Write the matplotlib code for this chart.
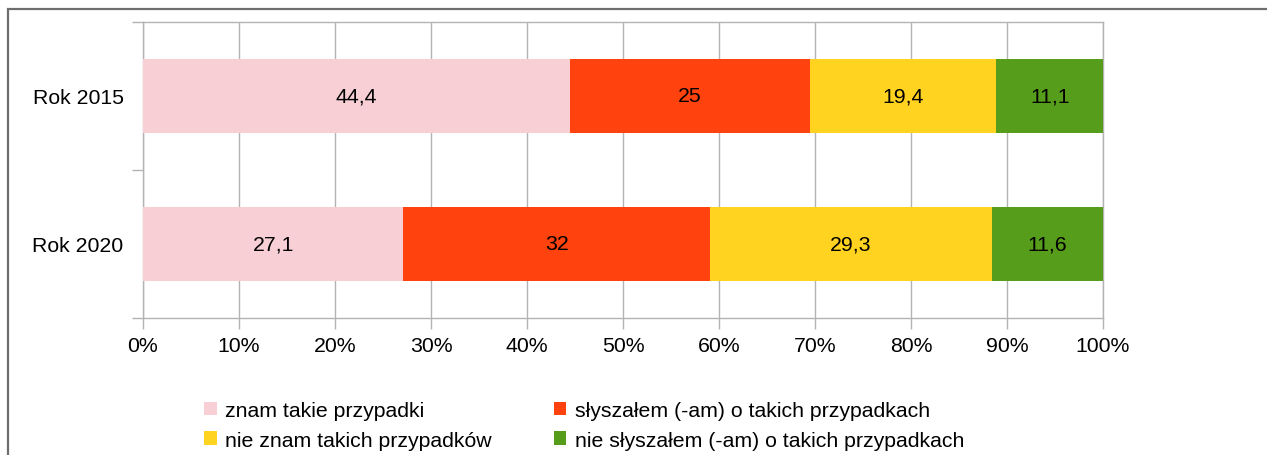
import matplotlib
matplotlib.use("Agg")
import matplotlib.pyplot as plt
from matplotlib.patches import Patch, Rectangle
import numpy as np

plt.rcParams['font.family'] = ['Liberation Sans', 'DejaVu Sans']

years = ["Rok 2015", "Rok 2020"]
series_names = [
    "znam takie przypadki",
    "słyszałem (-am) o takich przypadkach",
    "nie znam takich przypadków",
    "nie słyszałem (-am) o takich przypadkach",
]
znam = [44.4, 27.1]
slyszalem = [25, 32]
nie_znam = [19.4, 29.3]
nie_slyszalem = [11.1, 11.6]
colors = ["#F7CFD5", "#FF420E", "#FFD320", "#579D1C"]
x_ticks = [0, 10, 20, 30, 40, 50, 60, 70, 80, 90, 100]

W, H = 1267, 456
fig = plt.figure(figsize=(W / 100, H / 100), dpi=100)
fig.patch.set_facecolor("white")

# outer frame of the chart object
fig.patches.append(Rectangle((8 / W, -0.2), 1.2, (H - 10) / H + 0.2,
                             transform=fig.transFigure, fill=False,
                             edgecolor="#6e6e6e", linewidth=1.6))

ax = fig.add_axes([143 / W, (H - 319) / H, 960 / W, 296 / H])

data = np.array([znam, slyszalem, nie_znam, nie_slyszalem], dtype=float)
totals = data.sum(axis=0)
shares = data / totals * 100
y = np.arange(len(years))
left = np.zeros(len(years))
fs = 15.3
for i in range(len(series_names)):
    bars = ax.barh(y, shares[i], left=left, height=0.5, color=colors[i],
                   label=series_names[i], zorder=3)
    for j, b in enumerate(bars):
        val = data[i, j]
        txt = f"{val:g}".replace(".", ",")
        ax.text(left[j] + shares[i, j] / 2, y[j], txt, ha="center",
                va="center", fontsize=fs, color="black", zorder=4)
    left += shares[i]

ax.set_xlim(0, 100)
ax.set_ylim(1.5, -0.5)
ax.set_xticks(x_ticks)
ax.set_xticklabels([f"{t}%" for t in x_ticks], fontsize=fs)
ax.set_yticks(y)
ax.set_yticklabels(years, fontsize=fs)
ax.set_yticks([-0.5, 0.5, 1.5], minor=True)

grid_c = "#b3b3b3"
ax.grid(axis="x", color=grid_c, linewidth=1.0, zorder=0)
for s in ax.spines.values():
    s.set_color(grid_c)
    s.set_linewidth(1.0)
ax.tick_params(axis="y", which="major", length=0, pad=14)
ax.tick_params(axis="y", which="minor", length=8, color=grid_c, width=1.0)
ax.tick_params(axis="x", length=8, color=grid_c, width=1.0, pad=5)

handles = [Patch(facecolor=c, edgecolor="none") for c in colors]
order = [0, 2, 1, 3]
fig.legend([handles[k] for k in order], [series_names[k] for k in order],
           ncol=2, loc="upper left", bbox_to_anchor=(204 / W, (H - 402) / H),
           frameon=False, fontsize=fs, handlelength=0.6, handleheight=0.6,
           handletextpad=0.4, columnspacing=2.9, labelspacing=0.5,
           borderpad=0, borderaxespad=0)

fig.savefig("out.png", dpi=100, facecolor="white")
